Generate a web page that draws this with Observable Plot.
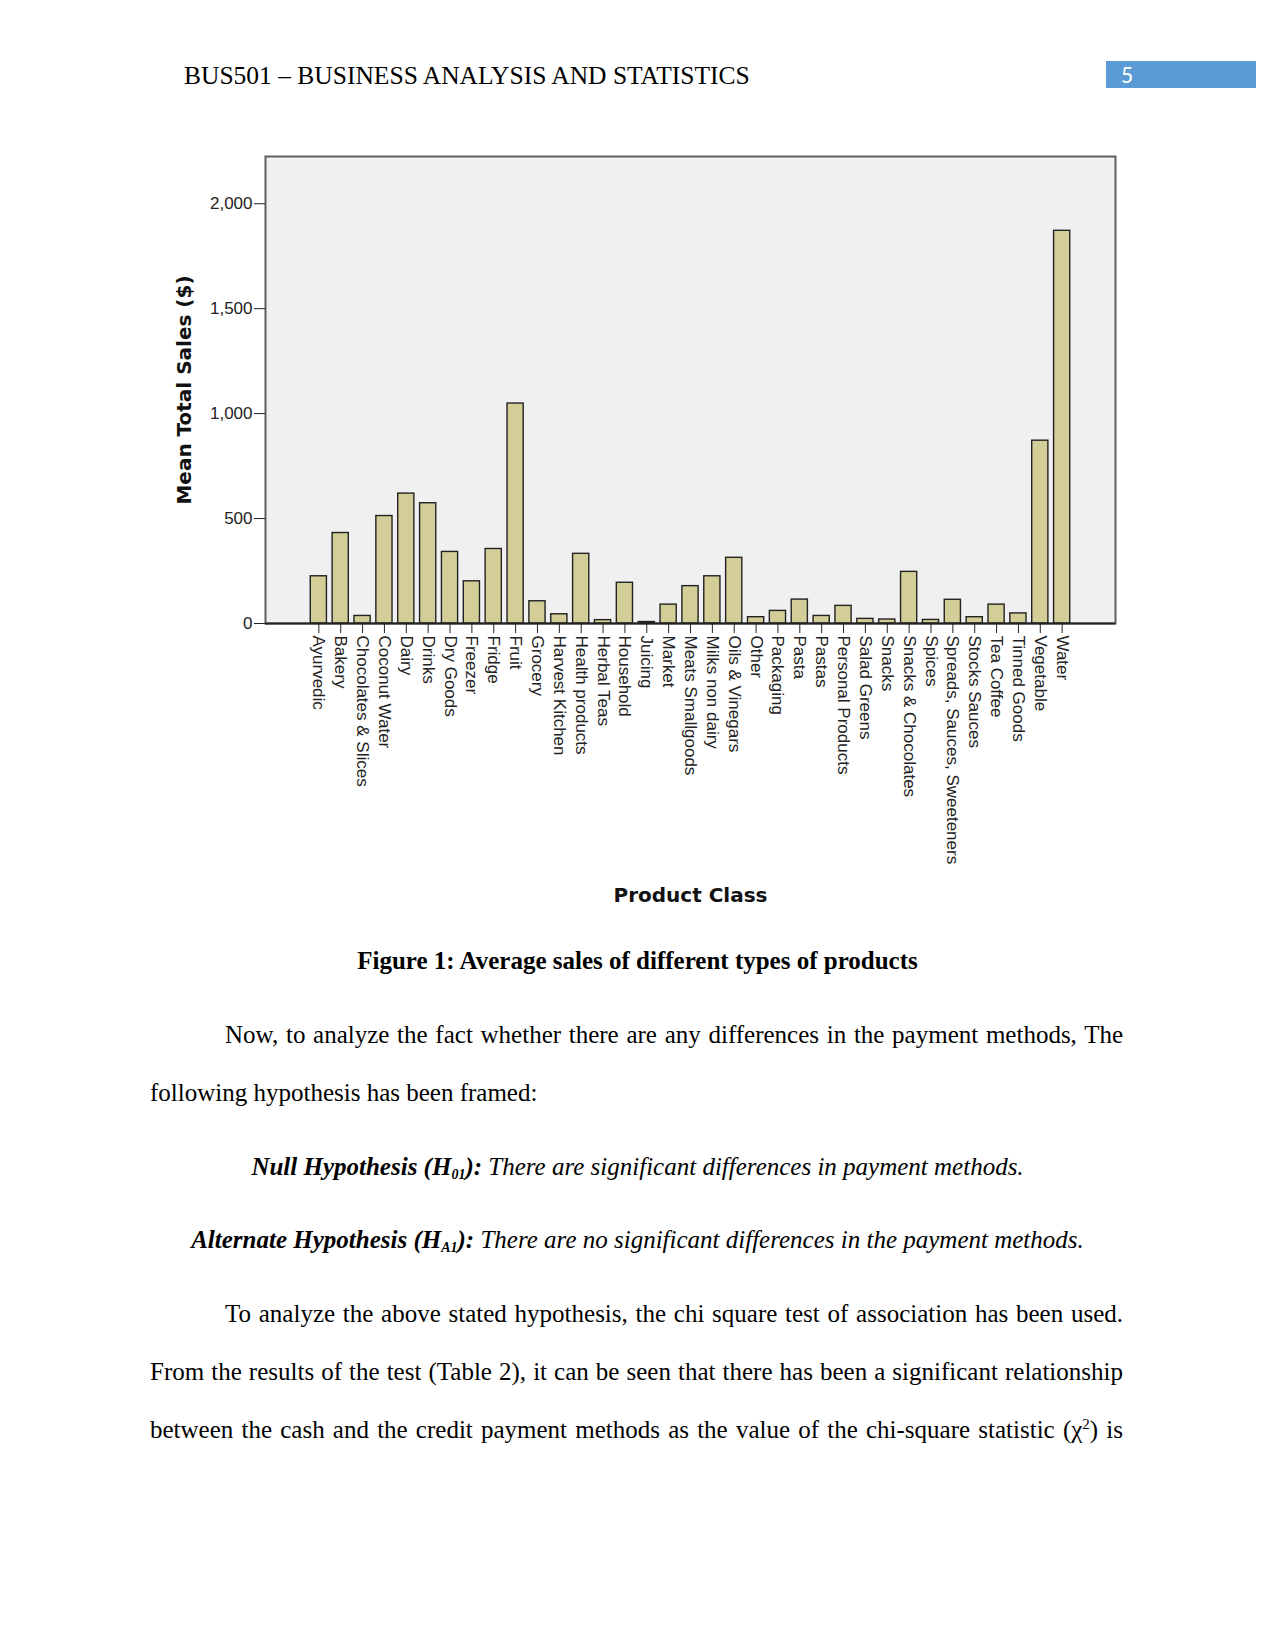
<!DOCTYPE html>
<html>
<head>
<meta charset="utf-8">
<script src="https://cdn.jsdelivr.net/npm/d3@7"></script>
<script src="https://cdn.jsdelivr.net/npm/@observablehq/plot@0.6"></script>
<style>
  body { margin: 0; background: #fff; }
  #page { position: relative; width: 1275px; height: 1650px; background: #fff; overflow: hidden; }
  .serif { font-family: "Liberation Serif", "Times New Roman", serif; font-size: 25px; line-height: 25px; color: #000; position: absolute; white-space: nowrap; }
  .just { text-align: justify; text-align-last: justify; white-space: normal; }
  #chart { position: absolute; left: 0; top: 0; }
  #chart svg g[aria-label="y-axis label"] text,
  #chart svg g[aria-label="x-axis label"] text,
  #chart svg g[aria-label="y-axis label"],
  #chart svg g[aria-label="x-axis label"] {
    font-family: "DejaVu Sans", Verdana, sans-serif; font-weight: bold; font-size: 20px; fill: #111;
  }
  sub { font-size: 14px; line-height: 0; vertical-align: -4px; }
  sup { font-size: 15px; line-height: 0; }
</style>
</head>
<body>
<div id="page">
  <div class="serif" style="left:184px; top:63px; font-size:25.5px;">BUS501 – BUSINESS ANALYSIS AND STATISTICS</div>
  <div style="position:absolute; left:1106px; top:61px; width:150px; height:27px; background:#5b9bd5;"></div>
  <div style="position:absolute; left:1121px; top:63px; font-family:Carlito, 'Open Sans', 'Liberation Sans', sans-serif; font-size:24px; line-height:24px; color:#fff;">5</div>

  <div id="chart"></div>

  <div class="serif" style="left:150px; width:975px; top:948px; text-align:center; font-weight:bold;">Figure 1: Average sales of different types of products</div>

  <div class="serif just" style="left:225px; width:898px; top:1022px;">Now, to analyze the fact whether there are any differences in the payment methods, The</div>
  <div class="serif" style="left:150px; top:1080px;">following hypothesis has been framed:</div>
  <div class="serif" style="left:150px; width:975px; top:1154px; text-align:center; font-style:italic;"><b>Null Hypothesis (H<sub>01</sub>):</b> There are significant differences in payment methods.</div>
  <div class="serif" style="left:150px; width:975px; top:1227px; text-align:center; font-style:italic;"><b>Alternate Hypothesis (H<sub>A1</sub>):</b> There are no significant differences in the payment methods.</div>
  <div class="serif just" style="left:225px; width:898px; top:1301px;">To analyze the above stated hypothesis, the chi square test of association has been used.</div>
  <div class="serif just" style="left:150px; width:973px; top:1359px;">From the results of the test (Table 2), it can be seen that there has been a significant relationship</div>
  <div class="serif just" style="left:150px; width:973px; top:1417px;">between the cash and the credit payment methods as the value of the chi-square statistic (χ<sup>2</sup>) is</div>
</div>
<script>
const categories = [
  "Ayurvedic", "Bakery", "Chocolates & Slices", "Coconut Water", "Dairy", "Drinks",
  "Dry Goods", "Freezer", "Fridge", "Fruit", "Grocery", "Harvest Kitchen",
  "Health products", "Herbal Teas", "Household", "Juicing", "Market", "Meats Smallgoods",
  "Milks non dairy", "Oils & Vinegars", "Other", "Packaging", "Pasta", "Pastas",
  "Personal Products", "Salad Greens", "Snacks", "Snacks & Chocolates", "Spices",
  "Spreads, Sauces, Sweeteners", "Stocks Sauces", "Tea Coffee", "Tinned Goods",
  "Vegetable", "Water"
];
const meanSales = [
  225, 431, 36, 512, 619, 573,
  341, 201, 355, 1048, 106, 44,
  332, 16, 194, 7, 90, 178,
  225, 313, 30, 60, 114, 36,
  84, 22, 19, 246, 17,
  113, 30, 90, 48,
  871, 1871
];
const yTicks = [0, 500, 1000, 1500, 2000];
const yMax = 2225;

const data = categories.map((c, i) => ({category: c, sales: meanSales[i]}));

const W = 1275, H = 920;
const chart = Plot.plot({
  width: W,
  height: H,
  marginLeft: 265,
  marginRight: 160,
  marginTop: 156,
  marginBottom: H - 623,
  style: {
    fontFamily: "'Liberation Sans', Arial, sans-serif",
    fontSize: "17px",
    background: "transparent",
    color: "#222",
    overflow: "visible"
  },
  x: {
    domain: categories,
    paddingInner: 0.26,
    paddingOuter: 2.07,
    round: false,
    label: null
  },
  y: {
    domain: [0, yMax],
    label: null
  },
  marks: [
    Plot.frame({fill: "#f0f0f0", stroke: "#5e5e5e", strokeWidth: 2}),
    Plot.barY(data, {x: "category", y: "sales", fill: "#d3ce97", stroke: "#222", strokeWidth: 1.4}),
    Plot.ruleY([0], {stroke: "#222", strokeWidth: 2}),
    Plot.axisY({
      ticks: yTicks,
      tickFormat: d3.format(","),
      tickSize: 11,
      tickPadding: 2,
      label: "Mean Total Sales ($)",
      labelAnchor: "center",
      labelArrow: false,
      labelOffset: 89,
      stroke: "#222"
    }),
    Plot.axisX({
      tickSize: 10,
      tickPadding: 2,
      tickRotate: 90,
      label: "Product Class",
      labelAnchor: "center",
      labelArrow: false,
      labelOffset: 278,
      stroke: "#222"
    })
  ]
});
document.getElementById("chart").appendChild(chart);
</script>
</body>
</html>
